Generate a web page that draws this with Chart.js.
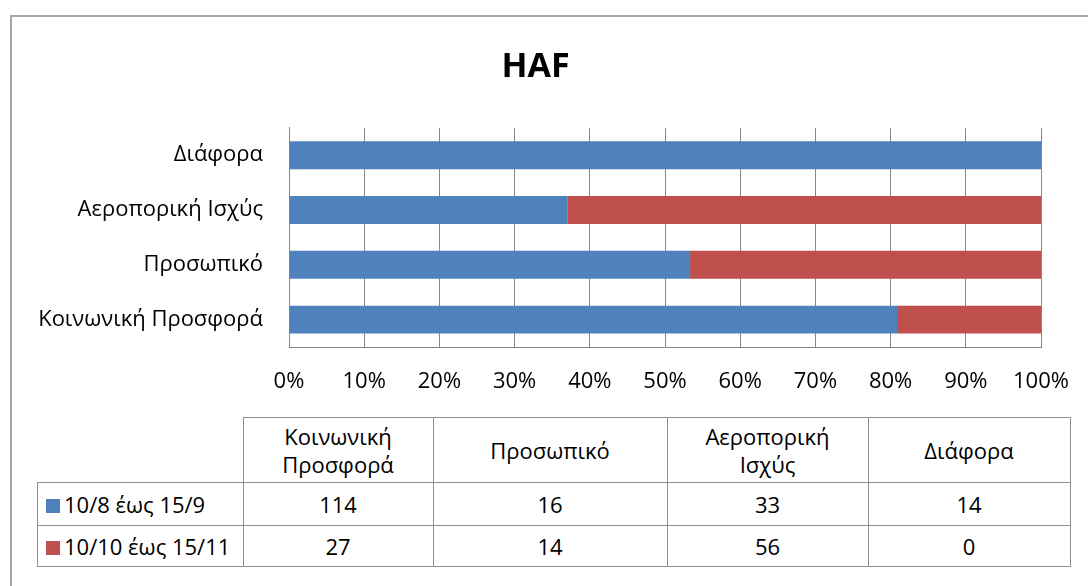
<!DOCTYPE html>
<html>
<head>
<meta charset="utf-8">
<script src="https://cdn.jsdelivr.net/npm/chart.js@4"></script>
<style>
  body { margin: 0; background: #fff; font-family: "Open Sans", "Noto Sans", sans-serif; }
  #frame { position: absolute; left: 10px; top: 15px; width: 1200px; height: 700px;
           border-left: 2px solid #a6a6a6; border-top: 2px solid #a6a6a6; }
  #wrap { position: absolute; left: 0; top: 0; width: 1088px; height: 400px; }
  #dataTable { position: absolute; left: 37px; top: 417px; border-collapse: collapse;
               font-size: 22px; color: #000; }
  #dataTable td { border: 1px solid #8f8f8f; text-align: center; padding: 0; }
  #dataTable td.blank { border-top: none; border-left: none; }
  #dataTable td.series { text-align: left; padding-left: 8px; white-space: nowrap; }
  .key { display: inline-block; width: 14px; height: 14px; margin-right: 4px; vertical-align: 0px; }
</style>
</head>
<body>
<div id="frame"></div>
<div id="wrap"><canvas id="hafChart"></canvas></div>
<table id="dataTable"></table>
<script>
// Κατηγορίες και τιμές (σειρά όπως στον πίνακα)
const categories = ['Κοινωνική Προσφορά', 'Προσωπικό', 'Αεροπορική Ισχύς', 'Διάφορα'];
const headerLines = [['Κοινωνική', 'Προσφορά'], ['Προσωπικό'], ['Αεροπορική', 'Ισχύς'], ['Διάφορα']];
const seriesNames = ['10/8 έως 15/9', '10/10 έως 15/11'];
const firstPeriod = [114, 16, 33, 14];
const secondPeriod = [27, 14, 56, 0];
const seriesColors = ['#4F81BD', '#C0504D'];
const xTicks = [0, 10, 20, 30, 40, 50, 60, 70, 80, 90, 100];

const totals = firstPeriod.map((v, i) => v + secondPeriod[i]);
const pct = arr => arr.map((v, i) => v / totals[i] * 100);

const ctx = document.getElementById('hafChart').getContext('2d');
new Chart(ctx, {
    type: 'bar',
    data: {
        labels: categories,
        datasets: [
            { label: seriesNames[0], data: pct(firstPeriod), backgroundColor: seriesColors[0],
              categoryPercentage: 1, barPercentage: 0.51 },
            { label: seriesNames[1], data: pct(secondPeriod), backgroundColor: seriesColors[1],
              categoryPercentage: 1, barPercentage: 0.51 }
        ]
    },
    options: {
        indexAxis: 'y',
        responsive: true,
        maintainAspectRatio: false,
        animation: false,
        layout: { padding: { left: 30, right: 47, top: 0, bottom: 0 } },
        plugins: {
            legend: { display: false },
            tooltip: { enabled: false },
            title: {
                display: true,
                text: 'HAF',
                color: '#000',
                font: { family: 'Open Sans', size: 34, weight: 'bold' },
                padding: { top: 47, bottom: 40 }
            }
        },
        scales: {
            x: {
                stacked: true,
                min: 0,
                max: 100,
                afterBuildTicks: scale => { scale.ticks = xTicks.map(v => ({ value: v })); },
                afterFit: scale => {
                    scale.height = 53;
                    scale.paddingLeft = 0;
                    scale.paddingRight = 0;
                },
                grid: { color: '#868686', drawTicks: false },
                border: { color: '#868686' },
                ticks: {
                    color: '#000',
                    padding: 22,
                    font: { family: 'Open Sans', size: 22 },
                    callback: v => v + '%'
                }
            },
            y: {
                stacked: true,
                reverse: true,
                afterFit: scale => { scale.width = 259; },
                grid: { display: false, drawTicks: false },
                border: { color: '#868686' },
                ticks: {
                    color: '#000',
                    padding: 26,
                    font: { family: 'Open Sans', size: 22 }
                }
            }
        }
    }
});

// Πίνακας δεδομένων κάτω από το γράφημα
const colWidths = [205, 189, 233, 200, 201];
const table = document.getElementById('dataTable');
let html = '<tr style="height:65px"><td class="blank" style="width:' + colWidths[0] + 'px"></td>';
headerLines.forEach((lines, i) => {
    html += '<td style="width:' + colWidths[i + 1] + 'px;line-height:28px">' + lines.join('<br>') + '</td>';
});
html += '</tr>';
[firstPeriod, secondPeriod].forEach((row, s) => {
    html += '<tr style="height:' + (s === 0 ? 43 : 41) + 'px"><td class="series"><span class="key" style="background:' +
        seriesColors[s] + '"></span>' + seriesNames[s] + '</td>';
    row.forEach(v => { html += '<td>' + v + '</td>'; });
    html += '</tr>';
});
table.innerHTML = html;
</script>
</body>
</html>
